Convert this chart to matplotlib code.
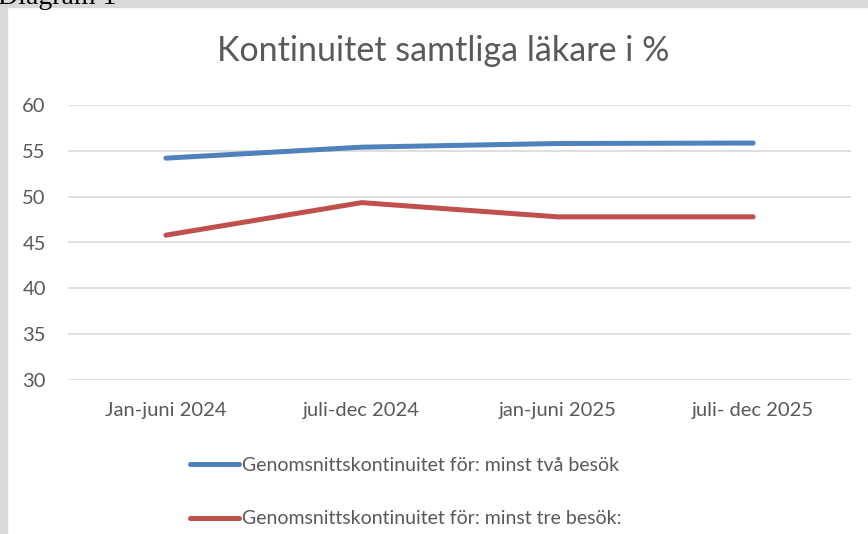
import matplotlib.pyplot as plt
from matplotlib.patches import Rectangle

periods = ["Jan-juni 2024", "juli-dec 2024", "jan-juni 2025", "juli- dec 2025"]
two_visits = [54.2, 55.4, 55.8, 55.85]
three_visits = [45.8, 49.35, 47.8, 47.8]
labels = ["Genomsnittskontinuitet för: minst två besök",
          "Genomsnittskontinuitet för: minst tre besök:"]

plt.rcParams['font.family'] = ['Lato', 'DejaVu Sans']
txt = '#595959'

fig = plt.figure(figsize=(8.68, 5.34), dpi=100)
W, H = 868, 534

# grey frame round the chart (left and top)
fig.patches.append(Rectangle((0, 0), 7 / W, 1, transform=fig.transFigure, color='#d9d9d9', zorder=0))
fig.patches.append(Rectangle((0, 1 - 7 / H), 1, 7 / H, transform=fig.transFigure, color='#d9d9d9', zorder=0))
fig.text(-2 / W, 1 - 4 / H, "Diagram 1", family='Liberation Serif', fontsize=20, va='baseline', color='black')

ax = fig.add_axes([68 / W, (H - 380) / H, 783 / W, 275 / H])
x = range(len(periods))
ax.plot(x, two_visits, color='#4f81bd', lw=3.6, solid_capstyle='round', label=labels[0])
ax.plot(x, three_visits, color='#c0504d', lw=3.6, solid_capstyle='round', label=labels[1])

ax.set_xlim(-0.5, len(periods) - 0.5)
ax.set_ylim(30, 60)
ax.set_yticks(range(30, 61, 5))
ax.set_xticks(list(x))
ax.set_xticklabels(periods)
ax.grid(axis='y', color='#d9d9d9', lw=1.2)
ax.set_axisbelow(True)
for s in ax.spines.values():
    s.set_visible(False)
ax.tick_params(length=0, labelsize=14.5, labelcolor=txt)
ax.tick_params(axis='y', pad=16)
ax.tick_params(axis='x', pad=16)

fig.text(443 / W, 1 - 51 / H, "Kontinuitet samtliga läkare i %", ha='center', va='center',
         fontsize=24.5, color=txt)

ax.legend(loc='upper left', bbox_to_anchor=(190 / W, 1 - 457 / H), bbox_transform=fig.transFigure,
          frameon=False, fontsize=14, labelcolor=txt, handlelength=2.5, handletextpad=0.15,
          labelspacing=1.87, borderpad=0, borderaxespad=0)

fig.savefig("out.png", dpi=100)
